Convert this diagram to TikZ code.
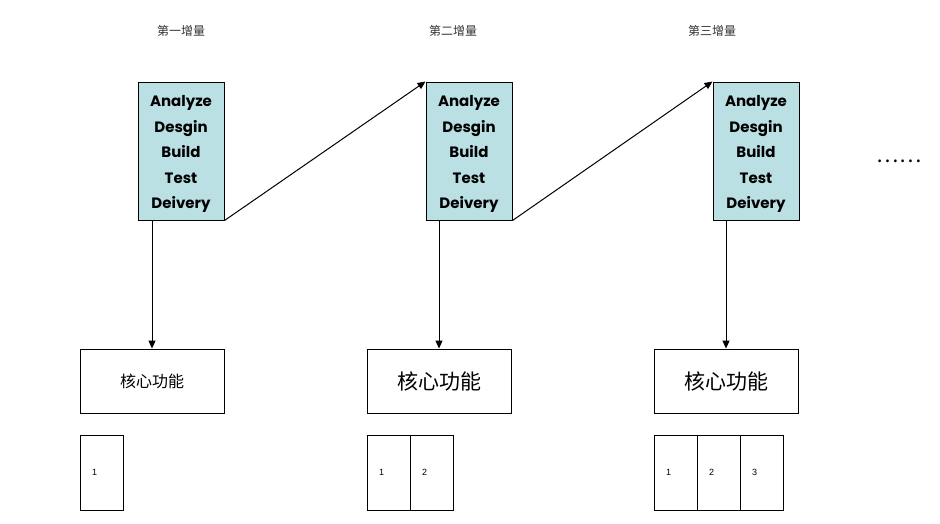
\documentclass[tikz,border=0pt]{standalone}
\usepackage{fontspec}
\usetikzlibrary{arrows.meta}
\setmainfont{Liberation Sans}
\newfontfamily\cjk{Noto Sans CJK SC}
\newfontfamily\phasefont{Poppins}
\definecolor{phasefill}{RGB}{186,224,228}
\newcommand{\phasetext}{\rule{0pt}{17pt}Analyze\\Desgin\\Build\\Test\\Deivery}
\begin{document}
\begin{tikzpicture}[x=1pt,y=-1pt,
  phase/.style={draw=black,line width=1pt,fill=phasefill,minimum width=86pt,minimum height=138pt,
    inner sep=0pt,align=center,font=\phasefont\bfseries\fontsize{15}{25.5}\selectfont},
  core/.style={draw=black,line width=0.9pt,minimum width=144pt,minimum height=64pt,inner sep=0pt},
  cell/.style={draw=black,line width=0.7pt,minimum width=43pt,minimum height=75pt,inner ysep=0pt,
    inner xsep=12pt,text width=19pt,align=left,font=\fontsize{9}{10}\selectfont},
  title/.style={font=\cjk\fontsize{12}{14}\selectfont,text=black!80},
  arr/.style={-{Triangle[length=8pt,width=7pt]},line width=1pt}]
\useasboundingbox (0,0) rectangle (940,523);
% titles
\node[title] (t1) at (181,31) {第一增量};
\node[title] (t2) at (453,31) {第二增量};
\node[title] (t3) at (712,31) {第三增量};
% phase boxes
\node[phase] (p1) at (181,151) {\phasetext};
\node[phase] (p2) at (469,151) {\phasetext};
\node[phase] (p3) at (756,151) {\phasetext};
\node[font=\cjk\fontsize{21}{24}\selectfont] (dots) at (899,161) {……};
% core boxes
\node[core,font=\cjk\fontsize{16}{18}\selectfont] (c1) at (152,381) {核心功能};
\node[core,font=\cjk\fontsize{21}{24}\selectfont] (c2) at (439,381) {核心功能};
\node[core,font=\cjk\fontsize{21}{24}\selectfont] (c3) at (726,381) {核心功能};
% cells
\node[cell] (a1) at (101.5,472.5) {1};
\node[cell] (b1) at (388.5,472.5) {1};
\node[cell] (b2) at (431.5,472.5) {2};
\node[cell] (e1) at (675.5,472.5) {1};
\node[cell] (e2) at (718.5,472.5) {2};
\node[cell] (e3) at (761.5,472.5) {3};
% arrows
\draw[arr] (c1.north |- p1.south) -- (c1.north);
\draw[arr] (c2.north |- p2.south) -- (c2.north);
\draw[arr] (c3.north |- p3.south) -- (c3.north);
\draw[arr] (p1.south east) -- (p2.north west);
\draw[arr] (p2.south east) -- (p3.north west);
\end{tikzpicture}
\end{document}
